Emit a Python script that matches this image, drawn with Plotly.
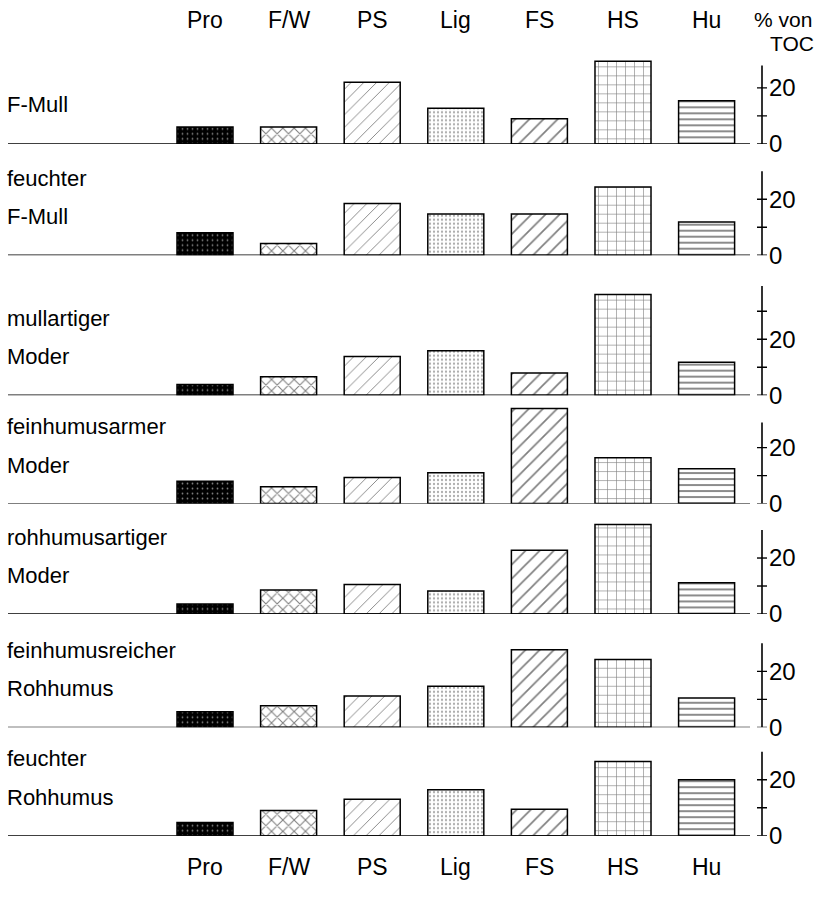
import plotly.graph_objects as go

# ---------------- data ----------------
categories = ["Pro", "F/W", "PS", "Lig", "FS", "HS", "Hu"]
panel_labels = [
    ["F-Mull"],
    ["feuchter", "F-Mull"],
    ["mullartiger", "Moder"],
    ["feinhumusarmer", "Moder"],
    ["rohhumusartiger", "Moder"],
    ["feinhumusreicher", "Rohhumus"],
    ["feuchter", "Rohhumus"],
]
f_mull = [6.0, 6.0, 22.0, 12.7, 9.0, 29.5, 15.4]
feuchter_f_mull = [8.0, 4.2, 18.5, 14.7, 14.7, 24.4, 11.9]
mullartiger_moder = [3.8, 6.6, 13.8, 15.9, 7.9, 36.0, 11.8]
feinhumusarmer_moder = [8.0, 6.0, 9.3, 11.0, 34.0, 16.4, 12.5]
rohhumusartiger_moder = [3.6, 8.6, 10.5, 8.2, 22.8, 32.0, 11.2]
feinhumusreicher_rohhumus = [5.6, 7.7, 11.2, 14.7, 27.7, 24.2, 10.5]
feuchter_rohhumus = [4.7, 9.0, 13.0, 16.4, 9.5, 26.5, 20.0]
series = [f_mull, feuchter_f_mull, mullartiger_moder, feinhumusarmer_moder,
          rohhumusartiger_moder, feinhumusreicher_rohhumus, feuchter_rohhumus]
axis_top = [28, 30, 39, 29, 30, 30, 30]
tick_values = [[0, 10, 20], [0, 10, 20], [0, 10, 20, 30], [0, 10, 20],
               [0, 10, 20], [0, 10, 20], [0, 10, 20]]
tick_labels = ["0", "20"]
tick_label_values = [0, 20]
unit_label = ["% von", "TOC"]

# ---------------- layout constants ----------------
W, H = 819, 900
baselines_px = [146, 259, 401, 511, 623, 738, 848]
px_per_unit = 2.84
y_range_max = 42
x_center0, x_step = 205, 83.6
axis_x_px = 762
FONT = "Liberation Sans, Arial, sans-serif"
FS_TXT = 22


def px_x(X):
    return X / W


def px_y(Y):
    return 1 - Y / H


def data_x(X):
    return (X - x_center0) / x_step


patterns = [
    dict(shape=".", fgcolor="white", bgcolor="black", size=5, solidity=0.1),
    dict(shape="x", fgcolor="black", bgcolor="white", size=8, solidity=0.25),
    dict(shape="/", fgcolor="black", bgcolor="white", size=9, solidity=0.1),
    dict(shape=".", fgcolor="#555555", bgcolor="white", size=4, solidity=0.25),
    dict(shape="/", fgcolor="black", bgcolor="white", size=10, solidity=0.17),
    dict(shape="+", fgcolor="black", bgcolor="white", size=9, solidity=0.13),
    dict(shape="-", fgcolor="black", bgcolor="white", size=6, solidity=0.3),
]

fig = go.Figure()
shapes = []
annotations = []

for i, vals in enumerate(series):
    yname = "y" if i == 0 else f"y{i+1}"
    b = baselines_px[i]
    d0 = px_y(b)
    d1 = px_y(b - y_range_max * px_per_unit)
    for j, cat in enumerate(categories):
        fig.add_trace(go.Bar(
            x=[cat], y=[vals[j]], xaxis="x", yaxis=yname, width=0.67,
            marker=dict(color="white", pattern=patterns[j],
                        line=dict(color="black", width=1.5)),
            showlegend=False, hoverinfo="skip"))
    key = "yaxis" if i == 0 else f"yaxis{i+1}"
    fig.layout[key] = dict(
        domain=[d0, min(d1, 1.0)], range=[0, y_range_max],
        anchor="free", position=px_x(axis_x_px), side="right",
        tickmode="array", tickvals=tick_label_values, ticktext=tick_labels,
        ticks="", showline=False, showgrid=False, zeroline=False,
        ticklabelstandoff=6,
        tickfont=dict(family=FONT, size=FS_TXT + 2, color="black"))
    shapes.append(dict(type="line", xref="paper", yref=yname,
                       x0=px_x(axis_x_px), x1=px_x(axis_x_px), y0=0, y1=axis_top[i],
                       line=dict(color="black", width=1.6)))
    for tv in tick_values[i]:
        shapes.append(dict(type="line", xref="paper", yref=yname,
                           x0=px_x(axis_x_px - 5), x1=px_x(axis_x_px + 5),
                           y0=tv, y1=tv, line=dict(color="black", width=1.4)))
    shapes.append(dict(type="line", xref="x", yref=yname,
                       x0=data_x(8), x1=data_x(750),
                       y0=0, y1=0, line=dict(color="black", width=1.4)))
    lines = panel_labels[i]
    offs = [40] if len(lines) == 1 else [78, 39]
    for text, off in zip(lines, offs):
        annotations.append(dict(text=text, xref="paper", yref="paper",
                                x=px_x(5), y=px_y(b - off),
                                xanchor="left", yanchor="middle", showarrow=False,
                                font=dict(family=FONT, size=FS_TXT, color="black")))

for cat in categories:
    for ypx in (20, 880):
        annotations.append(dict(text=cat, xref="x", yref="paper", x=cat,
                                y=px_y(ypx), xanchor="center", yanchor="middle",
                                showarrow=False,
                                font=dict(family=FONT, size=FS_TXT + 1, color="black")))
annotations.append(dict(text=unit_label[0], xref="paper", yref="paper",
                        x=px_x(752), y=px_y(20), xanchor="left", yanchor="middle",
                        showarrow=False, font=dict(family=FONT, size=FS_TXT - 1, color="black")))
annotations.append(dict(text=unit_label[1], xref="paper", yref="paper",
                        x=px_x(768), y=px_y(44), xanchor="left", yanchor="middle",
                        showarrow=False, font=dict(family=FONT, size=FS_TXT - 1, color="black")))

fig.update_layout(
    width=W, height=H, margin=dict(l=0, r=0, t=0, b=0),
    paper_bgcolor="white", plot_bgcolor="rgba(0,0,0,0)",
    xaxis=dict(type="category", categoryarray=categories, categoryorder="array",
               range=[data_x(0), data_x(W)], visible=False, domain=[0, 1]),
    shapes=shapes, annotations=annotations, bargap=0, showlegend=False,
)

fig.write_html(
    "out.html",
    config={"displayModeBar": False, "staticPlot": True},
    post_script=(
        "var s='margin:0;padding:0;overflow:hidden;height:900px;width:819px;';"
        "document.documentElement.style.cssText=s;document.body.style.cssText=s;"
    ),
)
